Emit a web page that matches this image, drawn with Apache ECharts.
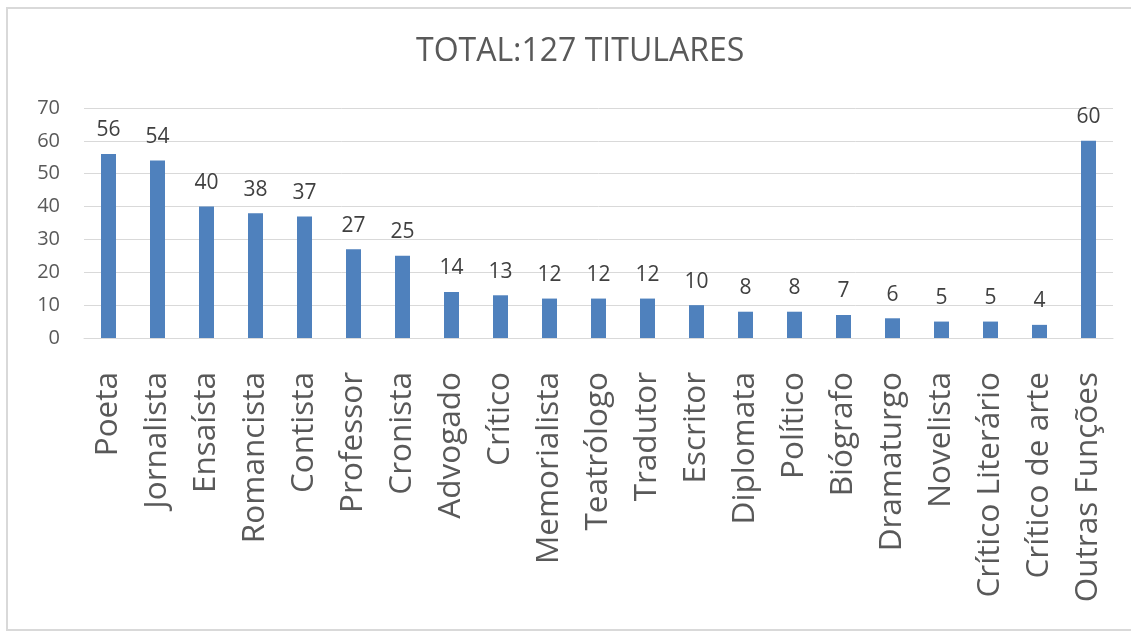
<!DOCTYPE html>
<html>
<head>
<meta charset="utf-8">
<script src="https://cdn.jsdelivr.net/npm/echarts@6/dist/echarts.min.js"></script>
<style>
  html, body { margin: 0; padding: 0; background: #fff; }
  #chart { width: 1131px; height: 631px; }
</style>
</head>
<body>
<div id="chart"></div>
<script>
// categorias e valores
const categories = [
  'Poeta', 'Jornalista', 'Ensaísta', 'Romancista', 'Contista', 'Professor',
  'Cronista', 'Advogado', 'Crítico', 'Memorialista', 'Teatrólogo', 'Tradutor',
  'Escritor', 'Diplomata', 'Político', 'Biógrafo', 'Dramaturgo', 'Novelista',
  'Crítico Literário', 'Crítico de arte', 'Outras Funções'
]
const values = [56, 54, 40, 38, 37, 27, 25, 14, 13, 12, 12, 12, 10, 8, 8, 7, 6, 5, 5, 4, 60]
const titleText = 'TOTAL:127 TITULARES'

const font = '"Open Sans", "Noto Sans", sans-serif'
const myChart = echarts.init(document.getElementById('chart'))

const option = {
  animation: false,
  backgroundColor: '#fff',
  graphic: [
    {
      type: 'rect',
      shape: { x: 7, y: 8, width: 1140, height: 622 },
      style: { fill: 'none', stroke: '#d9d9d9', lineWidth: 2 },
      silent: true
    }
  ],
  title: {
    text: titleText,
    left: 411,
    top: 31,
    textStyle: {
      fontFamily: font,
      fontSize: 32,
      fontWeight: 'normal',
      color: '#595959'
    }
  },
  grid: {
    left: 84,
    right: 18,
    top: 108,
    bottom: 293
  },
  xAxis: {
    type: 'category',
    data: categories,
    axisLine: { lineStyle: { color: '#d9d9d9', width: 1 } },
    axisTick: { show: false },
    axisLabel: {
      rotate: 90,
      interval: 0,
      margin: 34,
      fontFamily: font,
      fontSize: 31.5,
      color: '#595959'
    }
  },
  yAxis: {
    type: 'value',
    min: 0,
    max: 70,
    interval: 10,
    axisLine: { show: false },
    axisTick: { show: false },
    splitLine: { lineStyle: { color: '#d9d9d9', width: 1 } },
    axisLabel: {
      margin: 24,
      fontFamily: font,
      fontSize: 20,
      color: '#595959'
    }
  },
  series: [
    {
      type: 'bar',
      data: values,
      barWidth: 15,
      itemStyle: { color: '#4f81bd' },
      label: {
        show: true,
        position: 'top',
        distance: 13,
        fontFamily: font,
        fontSize: 21,
        color: '#404040'
      }
    }
  ]
}

myChart.setOption(option)
</script>
</body>
</html>
